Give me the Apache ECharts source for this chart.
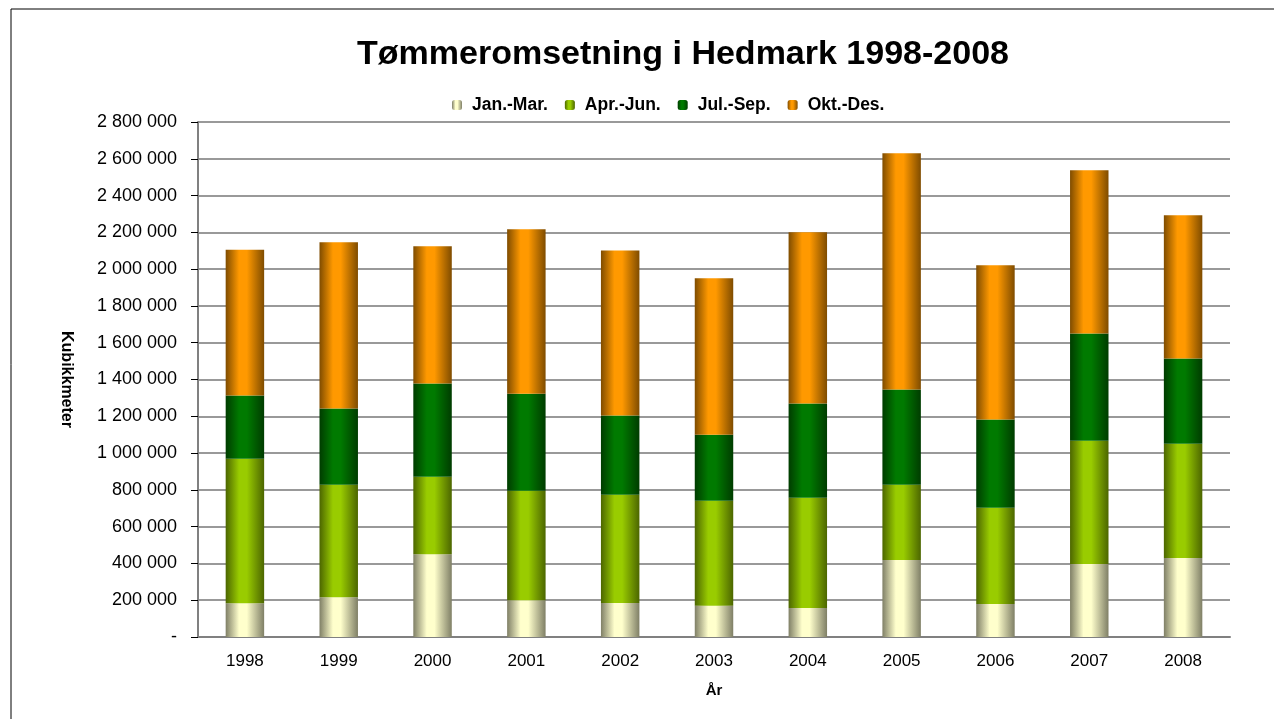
<!DOCTYPE html>
<html>
<head>
<meta charset="utf-8">
<script src="https://cdn.jsdelivr.net/npm/echarts@6/dist/echarts.min.js"></script>
<style>
html, body { margin: 0; padding: 0; background: #fff; }
#chart { width: 1274px; height: 719px; }
</style>
</head>
<body>
<div id="chart"></div>
<script>
// år og kvartalstall (kubikkmeter)
var years = ['1998', '1999', '2000', '2001', '2002', '2003', '2004', '2005', '2006', '2007', '2008'];
var janMar = [183000, 216000, 450000, 200000, 185000, 170000, 158000, 419000, 180000, 397000, 430000];
var aprJun = [786000, 612000, 421000, 595000, 588000, 571000, 599000, 409000, 523000, 670000, 621000];
var julSep = [344000, 414000, 507000, 528000, 431000, 359000, 512000, 517000, 479000, 583000, 463000];
var oktDes = [793000, 904000, 746000, 894000, 898000, 850000, 931000, 1285000, 839000, 888000, 779000];
var yTicks = [0, 200000, 400000, 600000, 800000, 1000000, 1200000, 1400000, 1600000, 1800000, 2000000, 2200000, 2400000, 2600000, 2800000];

var font = 'Liberation Sans, Arial, sans-serif';

// skygge fra kant til midten, som en sylinder
function grad(dark, light) {
    return new echarts.graphic.LinearGradient(0, 0, 1, 0, [
        { offset: 0, color: dark },
        { offset: 0.35, color: light },
        { offset: 0.55, color: light },
        { offset: 1, color: dark }
    ]);
}

function fmt(v) {
    if (v === 0) return '-';
    return String(v).replace(/\B(?=(\d{3})+(?!\d))/g, ' ');
}

function serie(name, data, dark, light) {
    return {
        name: name,
        type: 'bar',
        stack: 'total',
        data: data,
        barWidth: '41%',
        itemStyle: { color: grad(dark, light) }
    };
}

var myChart = echarts.init(document.getElementById('chart'));

var option = {
    animation: false,
    backgroundColor: '#fff',
    graphic: [{
        type: 'rect',
        shape: { x: 11, y: 9, width: 1300, height: 800 },
        style: { fill: 'none', stroke: '#000', lineWidth: 1 },
        silent: true,
        z: -1
    }],
    title: {
        text: 'Tømmeromsetning i Hedmark 1998-2008',
        left: 678,
        textAlign: 'center',
        top: 33,
        textStyle: { fontFamily: font, fontSize: 34, fontWeight: 'bold', color: '#000' }
    },
    legend: {
        data: ['Jan.-Mar.', 'Apr.-Jun.', 'Jul.-Sep.', 'Okt.-Des.'],
        left: 446,
        top: 93,
        itemWidth: 10,
        itemHeight: 10,
        itemGap: 17,
        backgroundColor: '#fff',
        padding: [3, 6],
        textStyle: { fontFamily: font, fontSize: 17.5, fontWeight: 'bold', color: '#000', padding: [0, 0, 0, 5] }
    },
    grid: { left: 198, right: 44, top: 122, bottom: 82 },
    xAxis: {
        type: 'category',
        data: years,
        name: 'År',
        nameLocation: 'middle',
        nameGap: 46,
        nameTextStyle: { fontFamily: font, fontSize: 15, fontWeight: 'bold', color: '#000' },
        axisLine: { lineStyle: { color: '#808080', width: 2 } },
        axisTick: { length: 7, lineStyle: { color: '#000' } },
        axisLabel: { fontFamily: font, fontSize: 17, color: '#000', margin: 16 }
    },
    yAxis: {
        type: 'value',
        min: 0,
        max: 2800000,
        interval: 200000,
        name: 'Kubikkmeter',
        nameLocation: 'middle',
        nameRotate: -90,
        nameGap: 124,
        nameTextStyle: { fontFamily: font, fontSize: 16, fontWeight: 'bold', color: '#000' },
        axisLine: { show: true, lineStyle: { color: '#808080', width: 2 } },
        axisTick: { show: true, length: 7, lineStyle: { color: '#000' } },
        axisLabel: {
            fontFamily: font, fontSize: 18, color: '#000', margin: 21,
            formatter: function (v) { return yTicks.indexOf(v) >= 0 ? fmt(v) : ''; }
        },
        splitLine: { lineStyle: { color: '#999', width: 2 } }
    },
    series: [
        serie('Jan.-Mar.', janMar, '#7f7f66', '#ffffcc'),
        serie('Apr.-Jun.', aprJun, '#4c6600', '#99cc00'),
        serie('Jul.-Sep.', julSep, '#003c00', '#007a00'),
        serie('Okt.-Des.', oktDes, '#7f4c00', '#ff9900')
    ]
};

myChart.setOption(option);
</script>
</body>
</html>
